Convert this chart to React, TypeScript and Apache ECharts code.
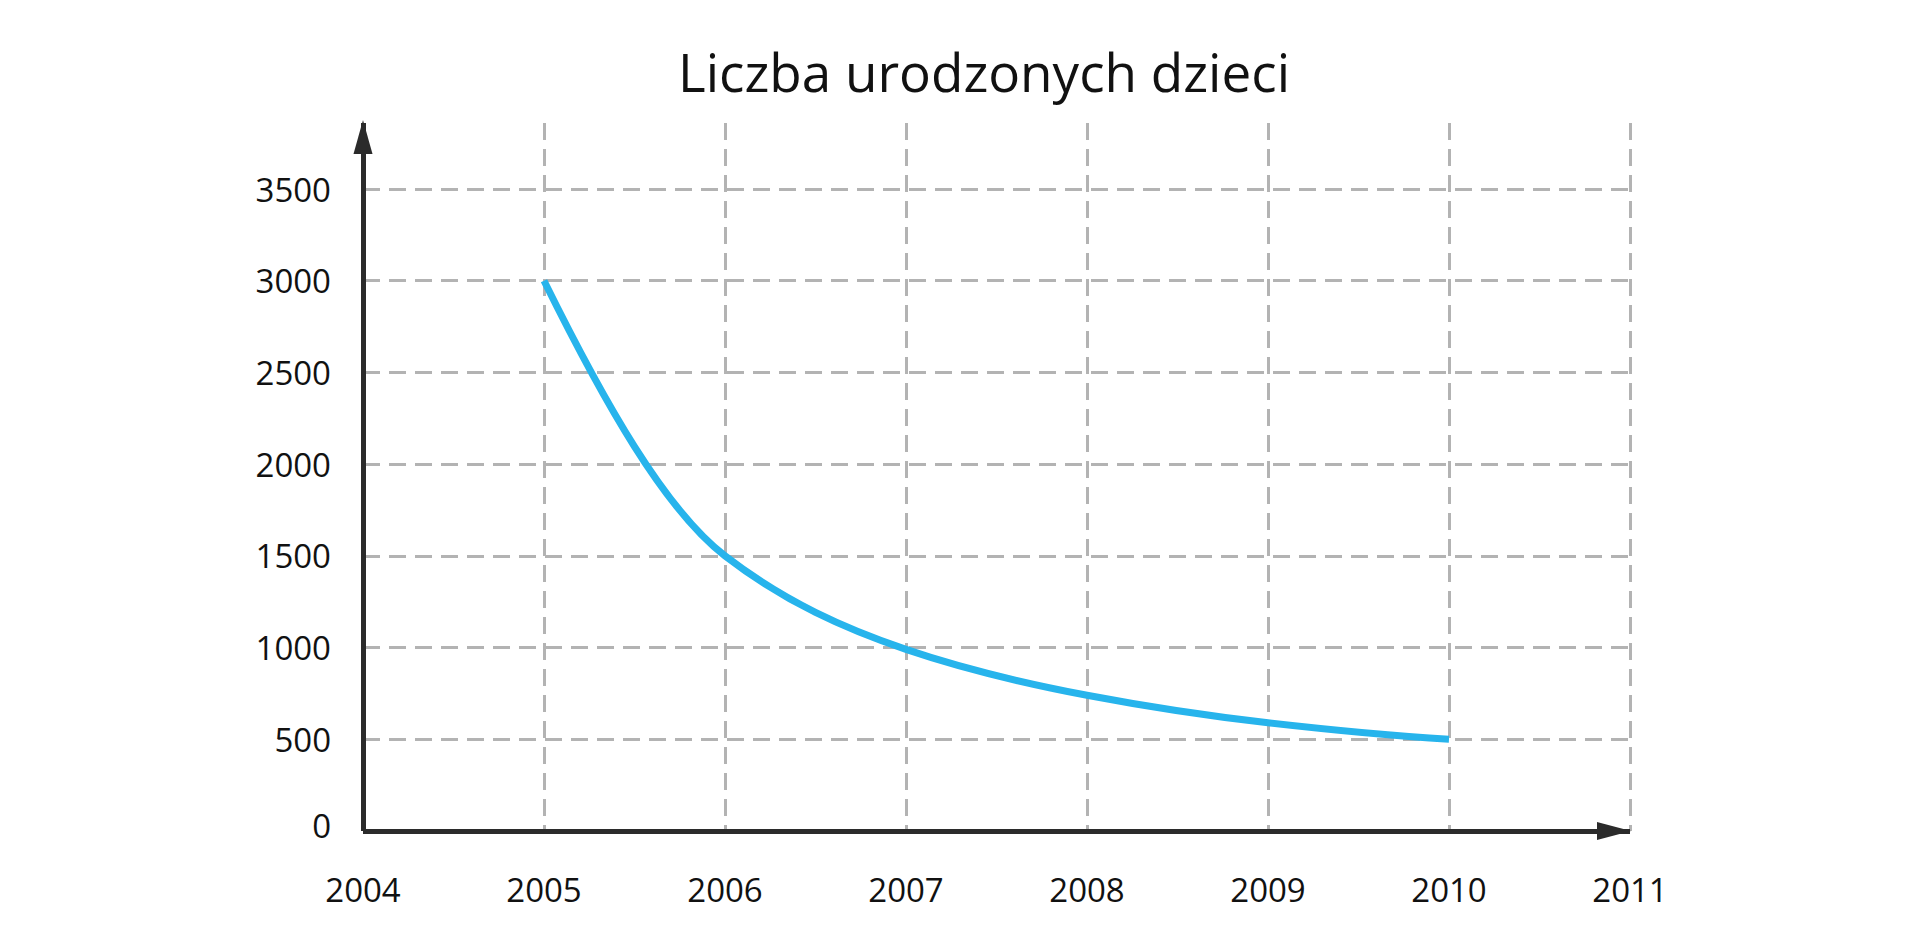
import React, { useEffect, useRef } from "react";
import * as echarts from "echarts";

const titleText = "Liczba urodzonych dzieci";
const years = [2005, 2006, 2007, 2008, 2009, 2010];
const births = [3000, 1500, 990, 740, 590, 500];
const xMin = 2004;
const xMax = 2011;
const yMin = 0;
const yMax = 3860;
const yStep = 500;

// Monotone cubic (PCHIP) path through pixel points
function monotonePath(pts: number[][]): string {
  const n = pts.length;
  if (n < 2) return "";
  const h: number[] = [];
  const d: number[] = [];
  for (let i = 0; i < n - 1; i++) {
    h.push(pts[i + 1][0] - pts[i][0]);
    d.push((pts[i + 1][1] - pts[i][1]) / (pts[i + 1][0] - pts[i][0]));
  }
  const m: number[] = new Array(n).fill(0);
  for (let i = 1; i < n - 1; i++) {
    if (d[i - 1] * d[i] <= 0) m[i] = 0;
    else {
      const w1 = 2 * h[i] + h[i - 1];
      const w2 = h[i] + 2 * h[i - 1];
      m[i] = (w1 + w2) / (w1 / d[i - 1] + w2 / d[i]);
    }
  }
  const endSlope = (h0: number, h1: number, d0: number, d1: number) => {
    let s = ((2 * h0 + h1) * d0 - h0 * d1) / (h0 + h1);
    if (s * d0 <= 0) s = 0;
    else if (d0 * d1 <= 0 && Math.abs(s) > Math.abs(3 * d0)) s = 3 * d0;
    return s;
  };
  m[0] = n > 2 ? endSlope(h[0], h[1], d[0], d[1]) : d[0];
  m[n - 1] = n > 2 ? endSlope(h[n - 2], h[n - 3], d[n - 2], d[n - 3]) : d[0];
  let p = `M${pts[0][0]},${pts[0][1]}`;
  for (let i = 0; i < n - 1; i++) {
    const dx = h[i] / 3;
    p += ` C${pts[i][0] + dx},${pts[i][1] + m[i] * dx} ${pts[i + 1][0] - dx},${pts[i + 1][1] - m[i + 1] * dx} ${pts[i + 1][0]},${pts[i + 1][1]}`;
  }
  return p;
}

export default function App() {
  const ref = useRef<HTMLDivElement>(null);
  useEffect(() => {
    if (!ref.current) return;
    const chart = echarts.init(ref.current, undefined, { renderer: "svg" });
    const axisColor = "#2b2b2b";
    const gridStyle = { color: "#b3b3b3", width: 3, type: [17, 9] as number[] };
    chart.setOption({
      animation: false,
      backgroundColor: "#ffffff",
      title: {
        text: titleText,
        left: 979,
        top: 40,
        textAlign: "center",
        textStyle: { fontFamily: "Open Sans", fontSize: 53, fontWeight: "normal", color: "#111" },
      },
      grid: { left: 363, right: 290, top: 123, bottom: 121, containLabel: false },
      xAxis: {
        type: "value",
        min: xMin,
        max: xMax,
        interval: 1,
        axisLine: {
          show: true,
          lineStyle: { color: axisColor, width: 5, cap: "butt" },
          symbol: ["none", "triangle"],
          symbolSize: [18, 34],
          symbolOffset: [0, -16],
        },
        axisTick: { show: false },
        axisLabel: {
          margin: 42,
          fontFamily: "Open Sans",
          fontSize: 33,
          color: "#111",
          formatter: (v: number) => String(v),
        },
        splitLine: { show: true, showMinLine: false, lineStyle: gridStyle },
      },
      yAxis: {
        type: "value",
        min: yMin,
        max: yMax,
        interval: yStep,
        axisLine: {
          show: true,
          lineStyle: { color: axisColor, width: 5, cap: "butt" },
          symbol: ["none", "triangle"],
          symbolSize: [19, 34],
          symbolOffset: [0, -14],
        },
        axisTick: { show: false },
        axisLabel: {
          margin: 32,
          fontFamily: "Open Sans",
          fontSize: 33,
          color: "#111",
          showMaxLabel: false,
          formatter: (v: number) => (v === 0 ? "{z|0}" : String(v)),
          rich: {
            z: { fontFamily: "Open Sans", fontSize: 33, color: "#111", padding: [0, 0, 12, 0] },
          },
        },
        splitLine: { show: true, showMinLine: false, showMaxLine: false, lineStyle: gridStyle },
      },
      series: [
        {
          type: "custom",
          coordinateSystem: "cartesian2d",
          data: years.map((y, i) => [y, births[i]]),
          encode: { x: 0, y: 1 },
          z: 3,
          renderItem: (params: any, api: any) => {
            if (params.dataIndex !== 0) return null;
            const pts = years.map((y, i) => api.coord([y, births[i]]));
            return {
              type: "path",
              shape: { pathData: monotonePath(pts) },
              style: { fill: "none", stroke: "#27b4ec", lineWidth: 7, lineCap: "butt", lineJoin: "round" },
            };
          },
        },
      ],
    });
    return () => chart.dispose();
  }, []);
  return (
    <div
      ref={ref}
      style={{ position: "fixed", left: 0, top: 0, width: 1920, height: 952, background: "#fff" }}
    />
  );
}
